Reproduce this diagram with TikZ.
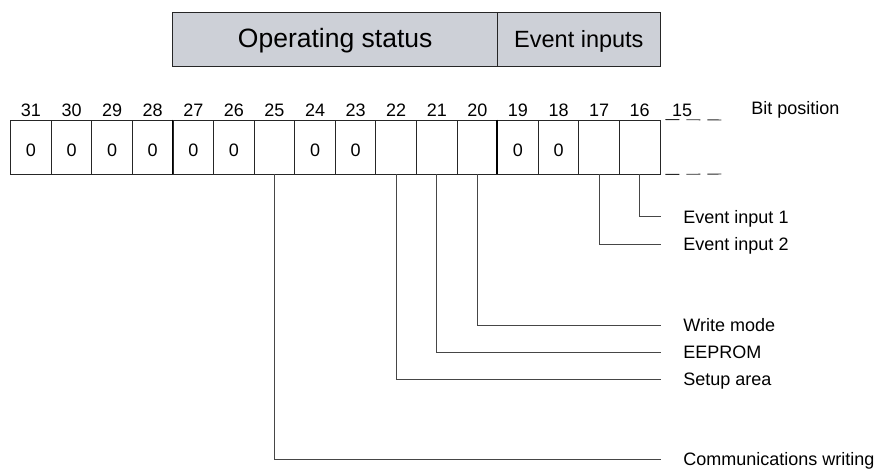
\documentclass[tikz,border=0pt]{standalone}
\usepackage{fontspec}
\setmainfont{Liberation Sans}
\usepackage{tikz}
\usetikzlibrary{positioning,calc}
\definecolor{hdrgray}{RGB}{205,208,215}
\definecolor{linegray}{RGB}{70,70,70}

\begin{document}
\begin{tikzpicture}[x=1pt, y=-1pt, line width=0.9pt]
  \tikzstyle{header} = [rectangle, draw=black!85, fill=hdrgray, minimum height=54pt, inner sep=0pt, text height=18pt, text depth=0pt]
  \tikzstyle{cell} = [rectangle, draw=black!85, minimum width=40.58pt, minimum height=54pt, inner sep=0pt, font=\fontsize{18}{20}\selectfont, text height=19pt, text depth=0pt]
  \tikzstyle{bitnum} = [anchor=base, inner sep=0pt, font=\fontsize{18}{20}\selectfont]
  \tikzstyle{lbl} = [anchor=west, inner sep=0pt, font=\fontsize{18}{20}\selectfont, text height=13pt, text depth=0pt]
  \tikzstyle{lead} = [draw=linegray, line width=0.8pt]

  \useasboundingbox (0,0) rectangle (882,470);

  % header fields
  \node[header, minimum width=325pt, font=\fontsize{26.5}{28}\selectfont] (opst) at (335.2,39) {Operating status};
  \node[header, minimum width=162.3pt, font=\fontsize{23.5}{26}\selectfont] (evin) at (578.85,39) {Event inputs};

  % register cells, bit 31 down to 16
  \foreach \b/\v in {31/0,30/0,29/0,28/0,27/0,26/0,25/{},24/0,23/0,22/{},21/{},20/{},19/0,18/0,17/{},16/{}} {
    \pgfmathsetmacro{\x}{10.7+(31-\b)*40.58+20.29}
    \node[cell] (c\b) at (\x,147) {\v};
    \node[bitnum] (n\b) at (\x,116.7) {\b};
  }

  % nibble boundaries
  \draw[line width=1.8pt] (c27.north west) -- (c27.south west);
  \draw[line width=1.8pt] (c19.north west) -- (c19.south west);

  % continuation past bit 16
  \node[bitnum] (n15) at (682,116.7) {15};
  \coordinate (topend) at (725,120);
  \coordinate (botend) at (725,174);
  \draw[draw=black!85, dash pattern=on 14pt off 7pt] ([xshift=5pt]c16.north east) -- (topend);
  \draw[draw=black!85, dash pattern=on 14pt off 7pt] ([xshift=5pt]c16.south east) -- (botend);
  \node[bitnum, anchor=base west] (bitpos) at (751,115) {Bit position};

  % bit meanings
  \node[lbl] (ev1) at (683,216.7) {Event input 1};
  \node[lbl] (ev2) at (683,244) {Event input 2};
  \node[lbl] (wmode) at (683,325) {Write mode};
  \node[lbl] (eeprom) at (683,352) {EEPROM};
  \node[lbl] (setup) at (683,379.3) {Setup area};
  \node[lbl] (comm) at (683,459) {Communications writing};

  \draw[lead] (c16.south) |- ([xshift=-22pt]ev1.west);
  \draw[lead] (c17.south) |- ([xshift=-22pt]ev2.west);
  \draw[lead] (c20.south) |- ([xshift=-22pt]wmode.west);
  \draw[lead] (c21.south) |- ([xshift=-22pt]eeprom.west);
  \draw[lead] (c22.south) |- ([xshift=-22pt]setup.west);
  \draw[lead] (c25.south) |- ([xshift=-22pt]comm.west);
\end{tikzpicture}
\end{document}
